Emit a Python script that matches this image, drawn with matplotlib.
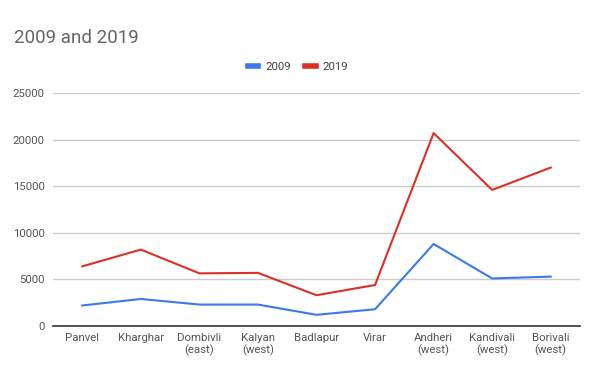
import matplotlib
matplotlib.use("Agg")
import matplotlib.pyplot as plt

plt.rcParams['font.family'] = ['Roboto', 'DejaVu Sans']

# data
places = ["Panvel", "Kharghar", "Dombivli\n(east)", "Kalyan\n(west)", "Badlapur",
          "Virar", "Andheri\n(west)", "Kandivali\n(west)", "Borivali\n(west)"]
v2009 = [2200, 2900, 2300, 2300, 1200, 1800, 8800, 5100, 5300]
v2019 = [6400, 8200, 5650, 5700, 3300, 4400, 20700, 14600, 17000]
yticks = [0, 5000, 10000, 15000, 20000, 25000]

fig = plt.figure(figsize=(5.98, 3.8), dpi=100)
ax = fig.add_axes([53 / 598, 1 - 326 / 380, 527 / 598, 233 / 380])

x = range(len(places))
ax.plot(x, v2009, color="#3c78f0", lw=1.5, label="2009")
ax.plot(x, v2019, color="#db3125", lw=1.5, label="2019")

ax.set_xlim(-0.5, len(places) - 0.5)
ax.set_ylim(0, 25000)
ax.set_yticks(yticks)
ax.set_xticks(list(x))
ax.set_xticklabels(places)
ax.grid(axis="y", color="#cccccc", lw=1)
ax.set_axisbelow(True)
for s in ["top", "right", "left"]:
    ax.spines[s].set_visible(False)
ax.spines["bottom"].set_color("#333333")
ax.spines["bottom"].set_linewidth(1.2)
ax.tick_params(length=0, labelsize=8.2, colors="#555555", pad=6)
ax.tick_params(axis="x", pad=5)

fig.text(14 / 598, 1 - 38 / 380, "2009 and 2019", fontsize=13.5, color="#666666", va="center")

leg = fig.legend(*ax.get_legend_handles_labels(), loc="center",
                 bbox_to_anchor=(298 / 598, 1 - 67 / 380), ncol=2,
                 frameon=False, fontsize=8.2, handlelength=0.9, handletextpad=0.6,
                 columnspacing=1.3)
for line in leg.get_lines():
    line.set_linewidth(4)
for t in leg.get_texts():
    t.set_color("#444444")

fig.savefig("out.png", dpi=100)
